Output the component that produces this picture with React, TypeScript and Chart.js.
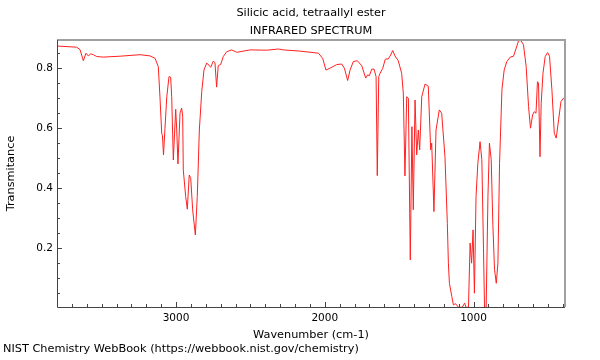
import React, { useEffect, useRef } from 'react';
import { Chart, registerables } from 'chart.js';
Chart.register(...registerables);

const titleLines = ['Silicic acid, tetraallyl ester', 'INFRARED SPECTRUM'];
const xTitle = 'Wavenumber (cm-1)';
const yTitle = 'Transmitance';
const footer = 'NIST Chemistry WebBook (https://webbook.nist.gov/chemistry)';

const wavenumbers = [
  3800, 3668, 3645, 3623, 3605, 3590, 3573, 3556, 3533, 3489, 3376, 3242, 3175, 3141, 3119, 3108,
  3096, 3091, 3084, 3074, 3062, 3047, 3036, 3029, 3018, 3010, 3002, 2995, 2987, 2973, 2962, 2955,
  2951, 2935, 2924, 2911, 2901, 2888, 2870, 2857, 2843, 2827, 2812, 2794, 2778, 2767, 2749, 2738,
  2727, 2716, 2700, 2682, 2659, 2626, 2592, 2502, 2390, 2312, 2279, 2166, 2043, 2014, 1992, 1965,
  1920, 1886, 1868, 1846, 1830, 1808, 1781, 1751, 1725, 1711, 1700, 1684, 1669, 1655, 1647, 1637,
  1628, 1610, 1593, 1573, 1557, 1543, 1528, 1506, 1483, 1472, 1461, 1449, 1438, 1425, 1414, 1405,
  1393, 1382, 1371, 1362, 1348, 1326, 1304, 1288, 1281, 1266, 1252, 1230, 1214, 1192, 1176, 1169,
  1162, 1146, 1135, 1121, 1101, 1076, 1060, 1050, 1034, 1023, 1013, 1003, 994, 983, 971, 956,
  944, 933, 926, 915, 903, 893, 881, 870, 859, 847, 836, 825, 809, 794, 776, 753,
  731, 713, 697, 681, 664, 646, 630, 617, 603, 592, 580, 570, 563, 553, 545, 533,
  518, 502, 489, 473, 457, 444, 428, 412, 395, 385,
];
const transmittance = [
  0.874, 0.870, 0.862, 0.825, 0.850, 0.841, 0.848, 0.845, 0.839, 0.837, 0.840, 0.845, 0.841, 0.833, 0.805, 0.705,
  0.583, 0.575, 0.511, 0.600, 0.705, 0.772, 0.770, 0.705, 0.494, 0.580, 0.663, 0.594, 0.481, 0.650, 0.667, 0.640,
  0.461, 0.372, 0.330, 0.444, 0.433, 0.328, 0.244, 0.372, 0.594, 0.722, 0.794, 0.817, 0.810, 0.803, 0.824, 0.818,
  0.737, 0.809, 0.812, 0.839, 0.855, 0.861, 0.853, 0.861, 0.860, 0.864, 0.861, 0.857, 0.850, 0.833, 0.794, 0.800,
  0.812, 0.814, 0.800, 0.759, 0.794, 0.822, 0.825, 0.808, 0.767, 0.778, 0.775, 0.797, 0.797, 0.772, 0.442, 0.772,
  0.783, 0.800, 0.830, 0.831, 0.844, 0.859, 0.841, 0.825, 0.783, 0.717, 0.441, 0.705, 0.700, 0.161, 0.605, 0.328,
  0.694, 0.511, 0.594, 0.528, 0.705, 0.747, 0.740, 0.528, 0.550, 0.322, 0.594, 0.661, 0.650, 0.505, 0.283, 0.150,
  0.083, 0.039, 0.011, 0.015, 0.003, 0.003, 0.017, 0.003, 0.003, 0.217, 0.150, 0.261, 0.050, 0.372, 0.483, 0.555,
  0.495, 0.200, 0.003, 0.003, 0.372, 0.550, 0.495, 0.280, 0.130, 0.083, 0.150, 0.483, 0.728, 0.794, 0.822, 0.837,
  0.840, 0.867, 0.892, 0.892, 0.878, 0.805, 0.672, 0.600, 0.644, 0.655, 0.650, 0.755, 0.750, 0.505, 0.683, 0.783,
  0.839, 0.852, 0.840, 0.728, 0.583, 0.567, 0.628, 0.689, 0.700, 0.698,
];

const xTickLabels = [1000, 2000, 3000];
const yTickLabels = [0.2, 0.4, 0.6, 0.8];

const xMin = 385;
const xMax = 3800;
const yMin = 0.004;
const yMax = 0.894;
const xMajorStep = 1000;
const xMinorStep = 100;
const yMajorStep = 0.2;
const yMinorStep = 0.05;

const FONT = '"DejaVu Sans", sans-serif';

export default function App() {
  const ref = useRef<HTMLCanvasElement>(null);

  useEffect(() => {
    document.body.style.margin = '0';
    const framePlugin = {
      id: 'frame',
      afterDraw(chart: any) {
        const { ctx, chartArea: a, scales } = chart;
        const xs = scales.x;
        const ys = scales.y;
        ctx.save();
        // top & right frame
        ctx.strokeStyle = '#a0a0a0';
        ctx.lineWidth = 2;
        ctx.beginPath();
        ctx.moveTo(a.left, a.top);
        ctx.lineTo(a.right, a.top);
        ctx.lineTo(a.right, a.bottom);
        ctx.stroke();
        // left & bottom axes
        ctx.strokeStyle = '#444';
        ctx.lineWidth = 1;
        ctx.beginPath();
        ctx.moveTo(a.left + 0.5, a.top);
        ctx.lineTo(a.left + 0.5, a.bottom + 0.5);
        ctx.lineTo(a.right, a.bottom + 0.5);
        ctx.stroke();
        // x ticks (inward)
        ctx.beginPath();
        for (let v = Math.ceil(xMin / xMinorStep) * xMinorStep; v <= xMax; v += xMinorStep) {
          const px = Math.round(xs.getPixelForValue(v)) + 0.5;
          const len = v % xMajorStep === 0 ? 5 : 3;
          ctx.moveTo(px, a.bottom);
          ctx.lineTo(px, a.bottom - len);
        }
        // y ticks (inward)
        for (let i = 1; i * yMinorStep <= yMax; i++) {
          const v = i * yMinorStep;
          const py = Math.round(ys.getPixelForValue(v)) + 0.5;
          const major = Math.abs(v / yMajorStep - Math.round(v / yMajorStep)) < 1e-6;
          ctx.moveTo(a.left, py);
          ctx.lineTo(a.left + (major ? 5 : 3), py);
        }
        ctx.stroke();
        // texts
        const cx = (a.left + a.right) / 2;
        ctx.fillStyle = '#000';
        ctx.font = `11.3px ${FONT}`;
        ctx.textAlign = 'center';
        ctx.textBaseline = 'alphabetic';
        ctx.fillText(titleLines[0], cx, 16);
        ctx.fillText(titleLines[1], cx, 34);
        ctx.fillText(xTitle, cx, 338);
        ctx.save();
        ctx.translate(14, (a.top + a.bottom) / 2);
        ctx.rotate(-Math.PI / 2);
        ctx.fillText(yTitle, 0, 0);
        ctx.restore();
        ctx.textAlign = 'left';
        ctx.fillText(footer, 3, 352);
        ctx.restore();
      },
    };

    const chart = new Chart(ref.current as HTMLCanvasElement, {
      type: 'line',
      data: {
        datasets: [
          {
            data: wavenumbers.map((w, i) => ({ x: w, y: transmittance[i] })),
            borderColor: '#ff2020',
            borderWidth: 1,
            pointRadius: 0,
            tension: 0,
            fill: false,
          },
        ],
      },
      options: {
        responsive: false,
        animation: false,
        devicePixelRatio: 1,
        layout: { padding: { left: 0, right: 35, top: 40, bottom: 0 } },
        plugins: { legend: { display: false }, tooltip: { enabled: false }, title: { display: false } },
        scales: {
          x: {
            type: 'linear',
            reverse: true,
            min: xMin,
            max: xMax,
            afterFit(s: any) {
              s.height = 53;
            },
            afterBuildTicks(s: any) {
              s.ticks = xTickLabels.map((v) => ({ value: v }));
            },
            grid: { display: false, drawTicks: false },
            border: { display: false },
            ticks: {
              maxRotation: 0,
              autoSkip: false,
              padding: 5,
              color: '#000',
              font: { family: FONT, size: 10.5 },
              callback: (v: any) => String(v),
            },
          },
          y: {
            type: 'linear',
            min: yMin,
            max: yMax,
            afterFit(s: any) {
              s.width = 57;
            },
            afterBuildTicks(s: any) {
              s.ticks = yTickLabels.map((v) => ({ value: v }));
            },
            grid: { display: false, drawTicks: false },
            border: { display: false },
            ticks: {
              autoSkip: false,
              padding: 4,
              color: '#000',
              font: { family: FONT, size: 10.5 },
              callback: (v: any) => Number(v).toFixed(1),
            },
          },
        },
      },
      plugins: [framePlugin],
    } as any);
    return () => chart.destroy();
  }, []);

  return <canvas ref={ref} width={600} height={360} style={{ display: 'block' }} />;
}
